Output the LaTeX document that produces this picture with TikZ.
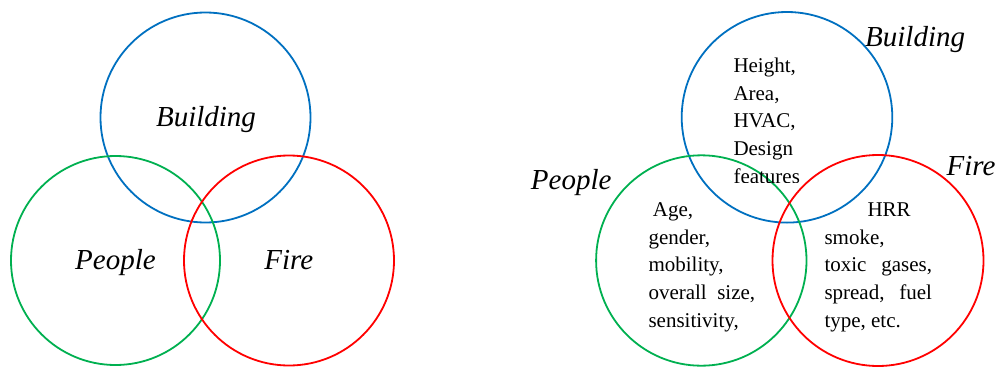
\documentclass[tikz,border=0pt]{standalone}
\usepackage{fontspec}
\setmainfont{Liberation Serif}
\definecolor{cblue}{RGB}{0,112,192}
\definecolor{cgreen}{RGB}{0,176,80}
\definecolor{cred}{RGB}{255,0,0}
\tikzset{
  ring/.style={draw, line width=1.8pt},
  biglabel/.style={font=\fontsize{29}{34}\selectfont\itshape, inner sep=0pt, anchor=base},
  toplabel/.style={font=\fontsize{29}{34}\selectfont\itshape, inner sep=0pt, anchor=base west},
  item/.style={font=\fontsize{21}{28}\selectfont, inner sep=0pt, anchor=base west}
}
\begin{document}
\begin{tikzpicture}[x=1pt,y=-1pt]
\useasboundingbox (0,0) rectangle (998,370);
% left diagram
\draw[ring, cblue] (205.5,117.5) circle (105);
\draw[ring, cgreen] (115.5,260.5) circle (104.5);
\draw[ring, cred] (289,260.5) circle (105);
\node[biglabel] (lb) at (206,126) {Building};
\node[biglabel] (lp) at (115.5,269.3) {People};
\node[biglabel] (lf) at (288.8,269.3) {Fire};
% right diagram
\draw[ring, cblue] (787,117.3) circle (105.3);
\draw[ring, cgreen] (701.3,260.5) circle (105.2);
\draw[ring, cred] (878,260.5) circle (105.5);
\node[toplabel] (rb) at (865,46.7) {Building};
\node[toplabel] (rf) at (946.5,175) {Fire};
\node[toplabel] (rp) at (530.7,189.5) {People};
% building items
\node[item] (b1) at (733.3,72) {Height,};
\node[item] (b2) at (733.3,100) {Area,};
\node[item] (b3) at (733.3,127.8) {HVAC,};
\node[item] (b4) at (733.3,155.7) {Design};
\begin{scope}
\clip (700,150) rectangle (850,182.5);
\node[item] (b5) at (733.3,183.5) {features};
\end{scope}
% people items
\node[item] (p1) at (652.7,216) {Age,};
\node[item] (p2) at (648.3,244) {gender,};
\node[item] (p3) at (648.3,271.8) {mobility,};
\node[item] (p4) at (648.3,299.8) {\makebox[106.7pt][s]{overall size,}};
\node[item] (p5) at (648.3,327.6) {sensitivity,};
% fire items
\node[item] (f1) at (867.3,216) {HRR};
\node[item] (f2) at (824.3,244) {smoke,};
\node[item] (f3) at (824.3,271.8) {\makebox[107.5pt][s]{toxic gases,}};
\node[item] (f4) at (824.3,299.8) {\makebox[107.5pt][s]{spread, fuel}};
\node[item] (f5) at (824.3,327.6) {type, etc.};
\end{tikzpicture}
\end{document}
